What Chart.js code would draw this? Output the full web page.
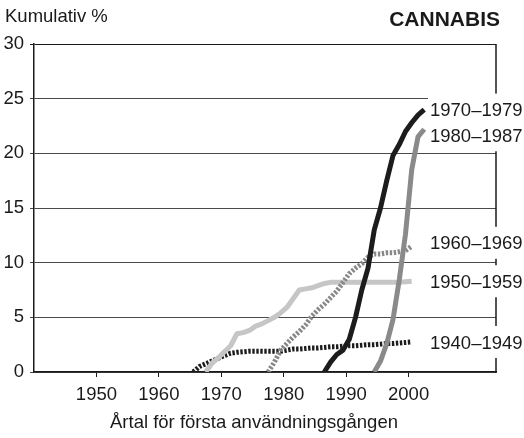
<!DOCTYPE html>
<html><head><meta charset="utf-8">
<script src="https://cdn.jsdelivr.net/npm/chart.js@4/dist/chart.umd.min.js"></script>
<style>html,body{margin:0;padding:0;background:#fff}#wrap{position:relative;width:524px;height:438px}</style>
</head><body><div id="wrap"><canvas id="c" width="524" height="438"></canvas></div>
<script>
// ---- data ----
const years = [1965,1966,1967,1968,1969,1970,1971,1972,1973,1974,1975,1976,1977,1978,1979,1980,1981,1982,1983,1984,1985,1986,1987,1988,1989,1990,1991,1992,1993,1994,1995,1996,1997,1998,1999,2000,2001,2002];
const seriesLabels = ['1940–1949','1950–1959','1960–1969','1970–1979','1980–1987'];
const s1940 = [0,0.5,0.75,1.0,1.25,1.5,1.72,1.8,1.85,1.9,1.9,1.9,1.9,1.9,1.9,2.0,2.1,2.1,2.15,2.2,2.2,2.25,2.3,2.3,2.35,2.4,2.4,2.45,2.5,2.5,2.55,2.6,2.6,2.65,2.7,2.75,null,null];
const s1950 = [null,null,0,0.8,1.3,1.85,2.4,3.5,3.6,3.8,4.2,4.4,4.7,5.0,5.4,5.9,6.7,7.5,7.6,7.7,7.9,8.1,8.2,8.2,8.2,8.2,8.2,8.2,8.2,8.2,8.2,8.2,8.2,8.2,8.25,8.3,null,null];
const s1960 = [null,null,null,null,null,null,null,null,null,null,null,null,0,0.9,2.0,2.6,3.2,3.7,4.3,5.1,5.7,6.2,6.8,7.4,8.2,9.0,9.5,9.9,10.5,10.8,10.8,10.9,10.9,11.0,11.1,11.5,null,null];
const s1970 = [null,null,null,null,null,null,null,null,null,null,null,null,null,null,null,null,null,null,null,null,null,0,0.9,1.6,2.0,3.0,5.0,7.5,9.5,13.0,15.0,17.5,19.8,20.8,22.0,22.8,23.5,24.0];
const s1980 = [null,null,null,null,null,null,null,null,null,null,null,null,null,null,null,null,null,null,null,null,null,null,null,null,null,null,null,null,null,0,1.0,2.6,4.8,8.4,12.6,18.5,21.5,22.2];
const xTicks = [1950,1960,1970,1980,1990,2000];
const yTicks = [0,5,10,15,20,25,30];

// ---- style / layout ----
const YEAR_CENTER = 0.5;
const FAM = '"Liberation Sans", Arial, Helvetica, sans-serif';
const TEXT = '#1a1a1a';
const FONT_PX = 18.5;

function pts(vals){
  const out = [];
  years.forEach((yr,i)=>{ if(vals[i]!==null && vals[i]!==undefined) out.push({x: yr + YEAR_CENTER, y: vals[i]}); });
  return out;
}

const styles = [
  {color:'#1c1c1c', dash:[2.4,1.6], order:5, nudge:0},
  {color:'#c6c6c6', dash:[], order:4, nudge:0},
  {color:'#888888', dash:[2.4,1.6], order:3, nudge:-3.5},
  {color:'#1c1c1c', dash:[], order:2, nudge:0},
  {color:'#8a8a8a', dash:[], order:1, nudge:6}
];
const allSeries = [s1940, s1950, s1960, s1970, s1980];

const datasets = allSeries.map((vals,i)=>({
  label: seriesLabels[i],
  data: pts(vals),
  borderColor: styles[i].color,
  borderWidth: 5,
  borderDash: styles[i].dash,
  borderCapStyle: 'butt',
  borderJoinStyle: 'round',
  pointRadius: 0,
  tension: 0,
  fill: false,
  order: styles[i].order,
  labelNudge: styles[i].nudge
}));

const overlay = {
  id: 'overlay',
  afterDraw(chart){
    const {ctx, chartArea:a, scales:{y}} = chart;
    ctx.save();
    // right frame
    ctx.strokeStyle = TEXT; ctx.lineWidth = 1.5;
    ctx.beginPath(); ctx.moveTo(a.right, a.top); ctx.lineTo(a.right, a.bottom + 1); ctx.stroke();
    // end-of-line labels
    const LX = 430;
    const pos = chart.data.datasets.map(ds=>{
      const last = ds.data[ds.data.length-1];
      return y.getPixelForValue(last.y) + ds.labelNudge;
    });
    ctx.fillStyle = '#fff';
    pos.forEach(py=> ctx.fillRect(LX-2, py-16, 524-LX+2, 32));
    ctx.fillStyle = TEXT;
    ctx.font = FONT_PX + 'px ' + FAM;
    ctx.textAlign = 'left'; ctx.textBaseline = 'alphabetic';
    chart.data.datasets.forEach((ds,i)=> ctx.fillText(ds.label, LX, pos[i] + 6.6));
    // titles
    ctx.fillText('Kumulativ %', 5, 22);
    ctx.textAlign = 'center';
    ctx.fillText('Årtal för första användningsgången', 254, 428);
    ctx.textAlign = 'right';
    ctx.font = 'bold 21px ' + FAM;
    ctx.fillText('CANNABIS', 500, 26);
    ctx.restore();
  }
};

new Chart(document.getElementById('c'), {
  type: 'line',
  data: { datasets },
  options: {
    responsive: false,
    devicePixelRatio: 1,
    animation: false,
    layout: { padding: { left: 0, top: 44, right: 28, bottom: 0 } },
    plugins: { legend: {display:false}, tooltip: {enabled:false}, title:{display:false} },
    scales: {
      x: {
        type: 'linear', min: 1940, max: 2014,
        afterBuildTicks: s => { s.ticks = xTicks.map(v=>({value:v})); },
        afterFit: s => { s.height = 66; },
        ticks: { callback: v => String(v), color: TEXT, font: {family: FAM, size: FONT_PX}, padding: 7, maxRotation: 0, autoSkip: false },
        grid: { drawOnChartArea: false, drawTicks: true, tickLength: 5, color: TEXT, lineWidth: 1 },
        border: { display: true, color: TEXT, width: 1.5 }
      },
      y: {
        type: 'linear', min: 0, max: 30,
        afterBuildTicks: s => { s.ticks = yTicks.map(v=>({value:v})); },
        afterFit: s => { s.width = 34; },
        ticks: { callback: v => String(v), color: TEXT, font: {family: FAM, size: FONT_PX}, padding: 6 },
        grid: { drawTicks: true, tickLength: 4, color: c => (c.tick && c.tick.value === 30) ? TEXT : '#4a4a4a', lineWidth: 1 },
        border: { display: true, color: TEXT, width: 1.5 }
      }
    }
  },
  plugins: [overlay]
});
</script></body></html>
